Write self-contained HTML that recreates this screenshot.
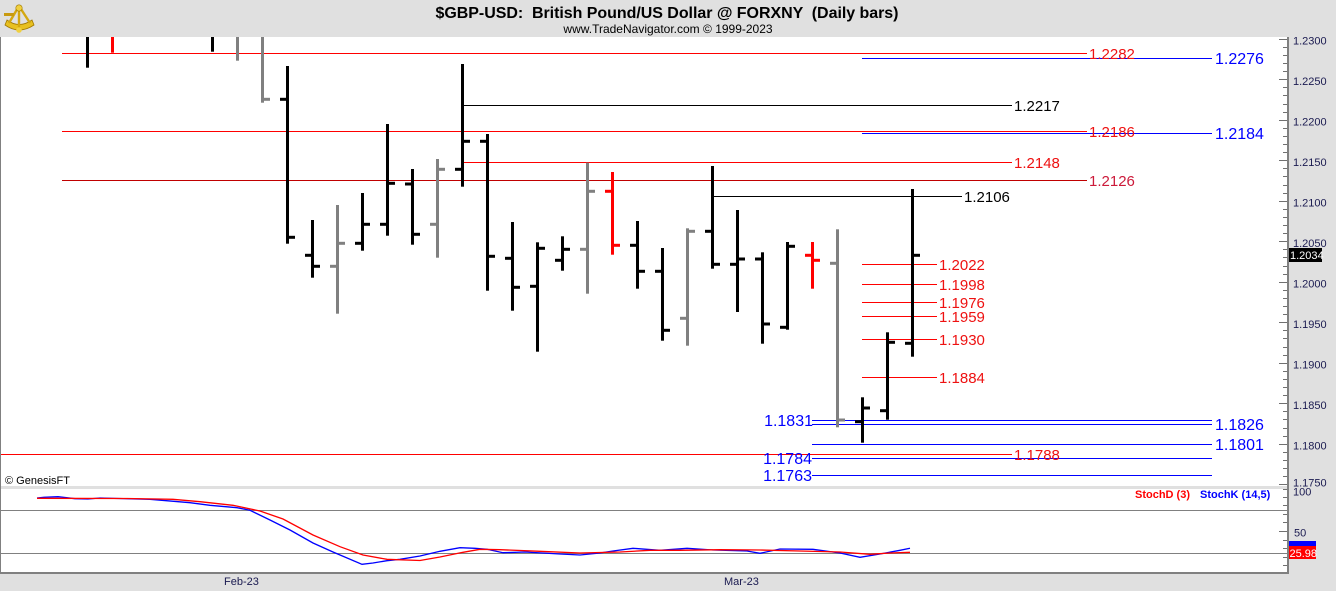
<!DOCTYPE html>
<html><head><meta charset="utf-8"><style>
html,body{margin:0;padding:0;background:#e0e0e0;overflow:hidden}
svg{display:block}
text{font-family:"Liberation Sans",Arial,sans-serif}
.pre{white-space:pre}
</style></head><body>
<svg width="1336" height="591" viewBox="0 0 1336 591" xmlns="http://www.w3.org/2000/svg">
<defs>
<clipPath id="mc"><rect x="1" y="37" width="1286" height="449"/></clipPath>
<clipPath id="lc"><rect x="1" y="489" width="1286" height="83"/></clipPath>
</defs>
<rect x="0" y="0" width="1336" height="591" fill="#e0e0e0"/>
<!-- logo -->
<g>
<path d="M5 25 Q19 35 34 25 L32 20 Q19 29 7 20 Z" fill="#e8c020" stroke="#a07800" stroke-width="0.8"/>
<path d="M19 6 L9 23 M19 6 L30 23 M19 6 L19 29" stroke="#d4a810" stroke-width="2.4" fill="none"/>
<circle cx="19" cy="8" r="3.2" fill="#f0d040" stroke="#a07800" stroke-width="0.6"/>
<rect x="4" y="13" width="10" height="3" fill="#c89a10"/>
<circle cx="19" cy="30" r="2.8" fill="#f0d040"/>
</g>
<text class="pre" xml:space="preserve" x="667" y="18" font-size="16" font-weight="bold" text-anchor="middle" fill="#000" textLength="463" lengthAdjust="spacing">$GBP-USD:  British Pound/US Dollar @ FORXNY  (Daily bars)</text>
<text x="668" y="33" font-size="12" text-anchor="middle" fill="#000">www.TradeNavigator.com © 1999-2023</text>

<!-- panels -->
<rect x="1" y="37" width="1286" height="449" fill="#fff"/>
<rect x="1" y="489" width="1286" height="83" fill="#fff"/>
<rect x="0" y="37" width="1" height="537" fill="#808080"/>
<rect x="0" y="572" width="1289" height="2" fill="#808080"/>
<rect x="1287" y="37" width="2" height="537" fill="#808080"/>

<!-- price lines -->
<g clip-path="url(#mc)" stroke-width="1" fill="none">
<line x1="62" y1="53.5" x2="1087" y2="53.5" stroke="#ff0000"/>
<line x1="862" y1="58.5" x2="1212" y2="58.5" stroke="#0000ff"/>
<line x1="462" y1="105.5" x2="1012" y2="105.5" stroke="#000"/>
<line x1="62" y1="131.5" x2="1087" y2="131.5" stroke="#ff0000"/>
<line x1="862" y1="133.5" x2="1212" y2="133.5" stroke="#0000ff"/>
<line x1="462" y1="162.5" x2="1012" y2="162.5" stroke="#ff0000"/>
<line x1="62" y1="180.5" x2="1087" y2="180.5" stroke="#c00000"/>
<line x1="712" y1="196.5" x2="962" y2="196.5" stroke="#000"/>
<line x1="862" y1="264.5" x2="937" y2="264.5" stroke="#ff0000"/>
<line x1="862" y1="284.5" x2="937" y2="284.5" stroke="#ff0000"/>
<line x1="862" y1="302.5" x2="937" y2="302.5" stroke="#ff0000"/>
<line x1="862" y1="316.5" x2="937" y2="316.5" stroke="#ff0000"/>
<line x1="862" y1="339.5" x2="937" y2="339.5" stroke="#ff0000"/>
<line x1="862" y1="377.5" x2="937" y2="377.5" stroke="#ff0000"/>
<line x1="812" y1="420.5" x2="1212" y2="420.5" stroke="#0000ff"/>
<line x1="812" y1="424.5" x2="1212" y2="424.5" stroke="#0000ff"/>
<line x1="812" y1="444.5" x2="1212" y2="444.5" stroke="#0000ff"/>
<line x1="0" y1="454.5" x2="1012" y2="454.5" stroke="#ff0000"/>
<line x1="812" y1="458.5" x2="1212" y2="458.5" stroke="#0000ff"/>
<line x1="812" y1="475.5" x2="1212" y2="475.5" stroke="#0000ff"/>
</g>

<!-- bars -->
<g clip-path="url(#mc)">
<g fill="#000">
<rect x="86" y="30" width="3" height="37.7"/>
<rect x="211" y="30" width="3" height="21.7"/>
<rect x="286" y="66" width="3" height="177.7"/><rect x="280" y="97.8" width="6" height="3"/><rect x="289" y="235.8" width="6" height="3"/>
<rect x="311" y="220" width="3" height="57.7"/><rect x="305" y="253.8" width="6" height="3"/><rect x="314" y="264.8" width="6" height="3"/>
<rect x="361" y="193" width="3" height="57.7"/><rect x="355" y="241.8" width="6" height="3"/><rect x="364" y="222.8" width="6" height="3"/>
<rect x="386" y="124" width="3" height="111.7"/><rect x="380" y="222.8" width="6" height="3"/><rect x="389" y="181.8" width="6" height="3"/>
<rect x="411" y="169" width="3" height="75.7"/><rect x="405" y="182.5" width="6" height="3"/><rect x="414" y="232.8" width="6" height="3"/>
<rect x="461" y="64" width="3" height="122.7"/><rect x="455" y="167.8" width="6" height="3"/><rect x="464" y="139.8" width="6" height="3"/>
<rect x="486" y="134" width="3" height="156.7"/><rect x="480" y="139.8" width="6" height="3"/><rect x="489" y="254.8" width="6" height="3"/>
<rect x="511" y="222" width="3" height="88.7"/><rect x="505" y="256.8" width="6" height="3"/><rect x="514" y="285.8" width="6" height="3"/>
<rect x="536" y="242.3" width="3" height="109.4"/><rect x="530" y="284.8" width="6" height="3"/><rect x="539" y="246.8" width="6" height="3"/>
<rect x="561" y="236.3" width="3" height="34.4"/><rect x="555" y="258.8" width="6" height="3"/><rect x="564" y="247.8" width="6" height="3"/>
<rect x="636" y="221" width="3" height="67.7"/><rect x="630" y="243.8" width="6" height="3"/><rect x="639" y="269.8" width="6" height="3"/>
<rect x="661" y="248" width="3" height="92.7"/><rect x="655" y="269.8" width="6" height="3"/><rect x="664" y="328.8" width="6" height="3"/>
<rect x="711" y="166" width="3" height="102.7"/><rect x="705" y="229.8" width="6" height="3"/><rect x="714" y="262.8" width="6" height="3"/>
<rect x="736" y="210" width="3" height="102"/><rect x="730" y="262.8" width="6" height="3"/><rect x="739" y="257.5" width="6" height="3"/>
<rect x="761" y="252.3" width="3" height="91.4"/><rect x="755" y="257.5" width="6" height="3"/><rect x="764" y="322.5" width="6" height="3"/>
<rect x="786" y="242" width="3" height="87.7"/><rect x="780" y="325.8" width="6" height="3"/><rect x="789" y="244.8" width="6" height="3"/>
<rect x="861" y="397.3" width="3" height="45.4"/><rect x="855" y="420.2" width="6" height="3"/><rect x="864" y="406.5" width="6" height="3"/>
<rect x="886" y="332.3" width="3" height="87.4"/><rect x="880" y="409.2" width="6" height="3"/><rect x="889" y="340.8" width="6" height="3"/>
<rect x="911" y="189" width="3" height="167.7"/><rect x="905" y="341.8" width="6" height="3"/><rect x="914" y="253.8" width="6" height="3"/>
</g>
<g fill="#808080">
<rect x="236" y="30" width="3" height="30.7"/>
<rect x="261" y="30" width="3" height="72.7"/><rect x="264" y="97.8" width="6" height="3"/>
<rect x="336" y="205" width="3" height="108.7"/><rect x="330" y="264.8" width="6" height="3"/><rect x="339" y="241.8" width="6" height="3"/>
<rect x="436" y="159" width="3" height="98.7"/><rect x="430" y="222.8" width="6" height="3"/><rect x="439" y="167.8" width="6" height="3"/>
<rect x="586" y="162.7" width="3" height="131"/><rect x="580" y="247.8" width="6" height="3"/><rect x="589" y="189.8" width="6" height="3"/>
<rect x="686" y="228.3" width="3" height="117.4"/><rect x="680" y="316.8" width="6" height="3"/><rect x="689" y="229.8" width="6" height="3"/>
<rect x="836" y="229.3" width="3" height="198"/><rect x="830" y="261.8" width="6" height="3"/><rect x="839" y="418.5" width="6" height="3"/>
</g>
<g fill="#ff0000">
<rect x="111" y="30" width="3" height="22.7"/>
<rect x="611" y="172" width="3" height="82.7"/><rect x="605" y="189.8" width="6" height="3"/><rect x="614" y="243.8" width="6" height="3"/>
<rect x="811" y="242" width="3" height="46.7"/><rect x="805" y="253.8" width="6" height="3"/><rect x="814" y="258.8" width="6" height="3"/>
</g>
</g>

<!-- price labels -->
<g font-size="15">
<text x="1089" y="59" fill="#ee1111">1.2282</text>
<text x="1014" y="111" fill="#000">1.2217</text>
<text x="1089" y="137" fill="#ee1111">1.2186</text>
<text x="1014" y="168" fill="#ee1111">1.2148</text>
<text x="1089" y="186" fill="#cc1a3a">1.2126</text>
<text x="964" y="202" fill="#000">1.2106</text>
<text x="939" y="270" fill="#ee1111">1.2022</text>
<text x="939" y="290" fill="#ee1111">1.1998</text>
<text x="939" y="308" fill="#ee1111">1.1976</text>
<text x="939" y="322" fill="#ee1111">1.1959</text>
<text x="939" y="345" fill="#ee1111">1.1930</text>
<text x="939" y="383" fill="#ee1111">1.1884</text>
<text x="1014" y="460" fill="#ee1111">1.1788</text>
</g>
<g font-size="16" fill="#0000ff">
<text x="1215" y="64">1.2276</text>
<text x="1215" y="139">1.2184</text>
<text x="1215" y="430">1.1826</text>
<text x="1215" y="450">1.1801</text>
<text x="813" y="426" text-anchor="end">1.1831</text>
<text x="812" y="464" text-anchor="end">1.1784</text>
<text x="812" y="481" text-anchor="end">1.1763</text>
</g>
<text x="5" y="484" font-size="11" fill="#000">© GenesisFT</text>

<!-- right axis ticks -->
<path stroke="#707070" stroke-width="1" fill="none" d="
M1279 39.5H1287 M1283 47.5H1287 M1283 55.5H1287 M1283 63.5H1287 M1283 71.5H1287
M1279 79.5H1287 M1283 87.5H1287 M1283 95.5H1287 M1283 104.5H1287 M1283 112.5H1287
M1279 120.5H1287 M1283 128.5H1287 M1283 136.5H1287 M1283 144.5H1287 M1283 152.5H1287
M1279 160.5H1287 M1283 168.5H1287 M1283 176.5H1287 M1283 185.5H1287 M1283 193.5H1287
M1279 201.5H1287 M1283 209.5H1287 M1283 217.5H1287 M1283 225.5H1287 M1283 233.5H1287
M1279 241.5H1287 M1283 249.5H1287 M1283 257.5H1287 M1283 266.5H1287 M1283 274.5H1287
M1279 282.5H1287 M1283 290.5H1287 M1283 298.5H1287 M1283 306.5H1287 M1283 314.5H1287
M1279 322.5H1287 M1283 330.5H1287 M1283 338.5H1287 M1283 347.5H1287 M1283 355.5H1287
M1279 363.5H1287 M1283 371.5H1287 M1283 379.5H1287 M1283 387.5H1287 M1283 395.5H1287
M1279 403.5H1287 M1283 411.5H1287 M1283 419.5H1287 M1283 428.5H1287 M1283 436.5H1287
M1279 444.5H1287 M1283 452.5H1287 M1283 460.5H1287 M1283 468.5H1287 M1283 476.5H1287
M1279 484.5H1287
M1283 489.5H1287 M1283 497.5H1287 M1283 505.5H1287 M1283 514.5H1287 M1283 522.5H1287
M1279 531.5H1287 M1283 540.5H1287 M1283 548.5H1287 M1283 557.5H1287 M1283 565.5H1287
"/>
<g font-size="11" fill="#1a1a50">
<text x="1293" y="44.3">1.2300</text>
<text x="1293" y="84.8">1.2250</text>
<text x="1293" y="125.4">1.2200</text>
<text x="1293" y="165.9">1.2150</text>
<text x="1293" y="206.4">1.2100</text>
<text x="1293" y="247">1.2050</text>
<text x="1293" y="287.5">1.2000</text>
<text x="1293" y="328">1.1950</text>
<text x="1293" y="368.5">1.1900</text>
<text x="1293" y="409.1">1.1850</text>
<text x="1293" y="449.6">1.1800</text>
<text x="1293" y="486.5">1.1750</text>
<text x="1293" y="495.5">100</text>
<text x="1294" y="536.5">50</text>
<text x="224" y="585">Feb-23</text>
<text x="724" y="585">Mar-23</text>
</g>
<rect x="1289" y="248" width="33" height="14" fill="#000"/>
<text x="1290" y="259" font-size="11" fill="#fff">1.2034</text>

<!-- lower panel -->
<g clip-path="url(#lc)">
<line x1="1" y1="510.5" x2="1287" y2="510.5" stroke="#808080" stroke-width="1"/>
<line x1="1" y1="553.5" x2="1287" y2="553.5" stroke="#808080" stroke-width="1"/>
<polyline fill="none" stroke="#0000ff" stroke-width="1.3" points="37,498 44,497.3 58,496.7 75,498.7 88,499 100,498 150,499.3 190,502.7 210,505.3 237,507.7 250,510.3 270,520 290,530 313,543 333,552 362,564.3 373,563 387,560.7 400,559.3 420,556 440,551.3 460,547.7 475,548.3 487,549.3 503,552.7 525,552 560,554 580,555 600,553 613,551 633,548.3 660,550.3 687,548.3 713,550 747,551 760,553.3 780,549 813,549.3 840,553 860,557.3 880,554 900,550.3 910,548.3"/>
<polyline fill="none" stroke="#ff0000" stroke-width="1.3" points="37,498.3 125,498.5 173,499.3 200,501.7 233,505.3 260,511 283,519 313,535 340,546.7 363,555 387,559.3 420,560.5 440,557 463,552.3 480,549.3 500,549.7 540,551.3 580,553 620,552 650,550.3 680,550.3 720,549.7 760,550 800,551 840,552 870,554.3 890,553 910,552.3"/>
</g>
<text x="1135" y="498" font-size="11" font-weight="bold" fill="#ff0000">StochD (3)</text>
<text x="1200" y="498" font-size="11" font-weight="bold" fill="#0000ff">StochK (14,5)</text>
<rect x="1289" y="541" width="27" height="5" fill="#0000ff"/>
<rect x="1289" y="546" width="27" height="13" fill="#ff0000"/>
<text x="1289.5" y="557" font-size="11" fill="#fff">25.98</text>
</svg>
</body></html>
